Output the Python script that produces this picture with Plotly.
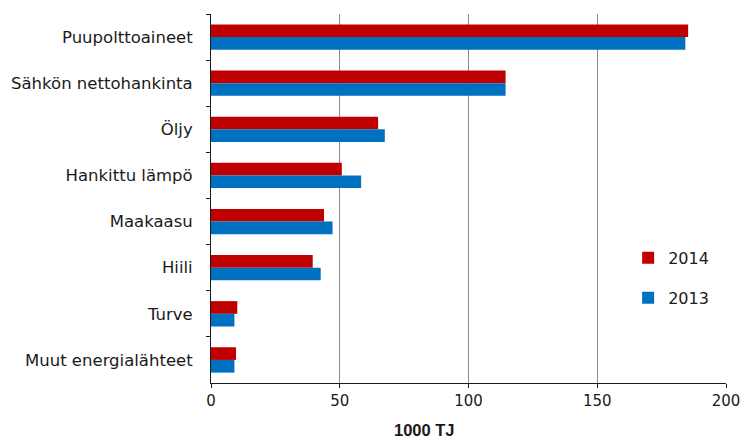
import plotly.graph_objects as go

categories = ["Puupolttoaineet", "Sähkön nettohankinta", "Öljy", "Hankittu lämpö",
              "Maakaasu", "Hiili", "Turve", "Muut energialähteet"]
values_2014 = [185.3, 114.4, 64.9, 50.8, 43.9, 39.5, 10.2, 9.7]
values_2013 = [184.2, 114.4, 67.5, 58.3, 47.2, 42.6, 9.1, 9.1]
x_ticks = [0, 50, 100, 150, 200]

fig = go.Figure()
fig.add_trace(go.Bar(y=categories, x=values_2014, name="2014", orientation="h",
                     marker=dict(color="#C00000", line=dict(width=0)), legendgroup="a"))
fig.add_trace(go.Bar(y=categories, x=values_2013, name="2013", orientation="h",
                     marker=dict(color="#0070C0", line=dict(width=0)), legendgroup="b"))

fig.update_layout(
    width=744, height=441,
    margin=dict(l=211, r=18, t=14, b=58, autoexpand=False),
    paper_bgcolor="white", plot_bgcolor="white",
    barmode="group", bargap=0.45, bargroupgap=0,
    font=dict(family="DejaVu Sans", size=15, color="#1a1a1a"),
    showlegend=True,
    legend=dict(x=0.81, y=0.385, xanchor="left", yanchor="top",
                font=dict(family="DejaVu Sans", size=16, color="#1a1a1a"),
                tracegroupgap=16, bgcolor="rgba(0,0,0,0)", itemwidth=30),
    xaxis=dict(range=[0, 200], tickvals=x_ticks, ticktext=[str(v) for v in x_ticks],
               showgrid=True, gridcolor="#8c8c8c", gridwidth=1,
               showline=True, linecolor="#1a1a1a", linewidth=1,
               ticks="outside", ticklen=4, tickcolor="#1a1a1a",
               zeroline=False, tickfont=dict(size=15)),
    yaxis=dict(autorange="reversed", categoryorder="array", categoryarray=categories,
               showline=True, linecolor="#1a1a1a", linewidth=1,
               ticks="outside", ticklen=4, tickcolor="#1a1a1a", tickson="boundaries",
               showgrid=False, tickfont=dict(size=16.5), ticklabelstandoff=14),
    annotations=[dict(text="<b>1000 TJ</b>", xref="paper", yref="paper", x=0.4155, y=0,
                      xanchor="center", yanchor="middle", yshift=-47, showarrow=False,
                      font=dict(family="Liberation Sans", size=16.5, color="#1a1a1a"))],
)

fig.write_html("out.html")
